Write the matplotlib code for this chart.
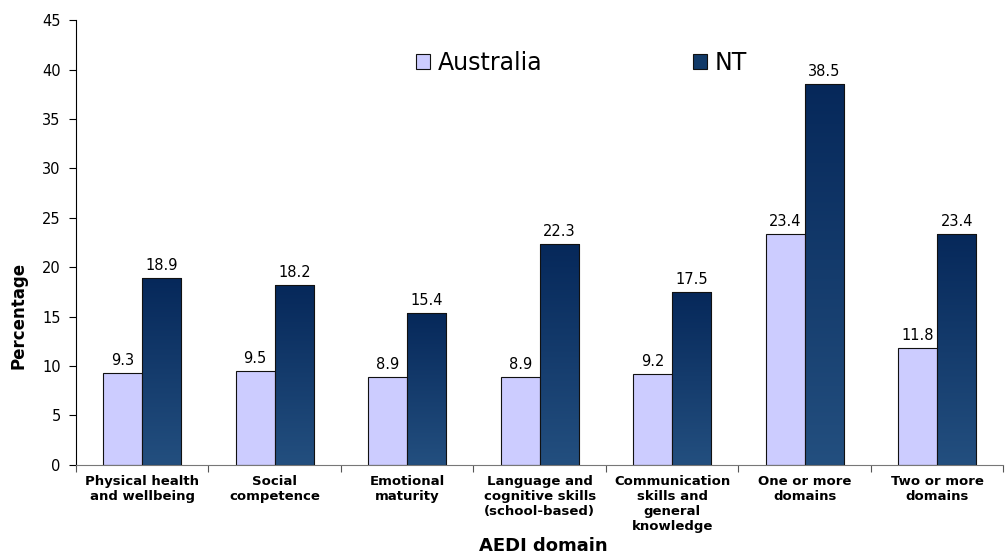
import numpy as np
import matplotlib
matplotlib.use("Agg")
import matplotlib.pyplot as plt
from matplotlib.colors import LinearSegmentedColormap
from matplotlib.patches import Patch

plt.rcParams['font.family'] = ['DejaVu Sans']

# AEDI domains and percentages of children developmentally vulnerable
domains = ["Physical health\nand wellbeing", "Social\ncompetence", "Emotional\nmaturity",
           "Language and\ncognitive skills\n(school-based)", "Communication\nskills and\ngeneral\nknowledge",
           "One or more\ndomains", "Two or more\ndomains"]
australia = [9.3, 9.5, 8.9, 8.9, 9.2, 23.4, 11.8]
nt = [18.9, 18.2, 15.4, 22.3, 17.5, 38.5, 23.4]

fig = plt.figure(figsize=(10.06, 5.58), dpi=100)
ax = fig.add_axes([0.0755, 0.167, 0.922, 0.797])

x = np.arange(len(domains))
w = 0.295
b1 = ax.bar(x - w / 2, australia, w, color="#CCCCFF", edgecolor="#111111", linewidth=0.8, zorder=2)
b2 = ax.bar(x + w / 2, nt, w, color="none", edgecolor="#111111", linewidth=0.8, zorder=3)

# vertical gradient fill for the NT bars
cmap = LinearSegmentedColormap.from_list("nt", ["#234F7F", "#06285A"])
grad = np.linspace(0, 1, 256).reshape(-1, 1)
for bar in b2:
    x0, y0 = bar.get_x(), bar.get_y()
    im = ax.imshow(grad, cmap=cmap, origin="lower", aspect="auto",
                   extent=[x0, x0 + bar.get_width(), y0, y0 + bar.get_height()], zorder=2)
    im.set_clip_path(bar)

for bars, vals in ((b1, australia), (b2, nt)):
    for bar, v in zip(bars, vals):
        ax.text(bar.get_x() + bar.get_width() / 2, v + 0.5, f"{v:.1f}",
                ha="center", va="bottom", fontsize=10.5)

ax.set_xlim(-0.5, len(domains) - 0.5)
ax.set_ylim(0, 45)
ax.set_yticks(np.arange(0, 46, 5))
ax.tick_params(axis="y", labelsize=10.5, length=5, direction="out", pad=6)
ax.set_xticks(np.arange(len(domains) + 1) - 0.5)
ax.set_xticklabels([])
ax.tick_params(axis="x", length=5, direction="out", color="#555555")
for i, lab in enumerate(domains):
    ax.text(i, -1.0, lab, ha="center", va="top", fontsize=9.5, fontweight="bold",
            linespacing=1.2)

ax.spines["top"].set_visible(False)
ax.spines["right"].set_visible(False)
ax.spines["bottom"].set_color("#777777")

fig.text(0.018, 0.435, "Percentage", rotation=90, ha="center", va="center",
         fontsize=12, fontweight="bold")
fig.text(0.54, 0.005, "AEDI domain", ha="center", va="bottom", fontsize=13, fontweight="bold")

handles = [Patch(facecolor="#CCCCFF", edgecolor="#111111", linewidth=0.8),
           Patch(facecolor="#123A68", edgecolor="#111111", linewidth=0.8)]
ax.legend(handles, ["Australia", "NT"], loc="upper center", bbox_to_anchor=(0.545, 0.978),
          ncol=2, frameon=False, fontsize=17, columnspacing=6.4, handlelength=0.6,
          handleheight=0.6, handletextpad=0.3)

fig.savefig("out.png", dpi=100)
